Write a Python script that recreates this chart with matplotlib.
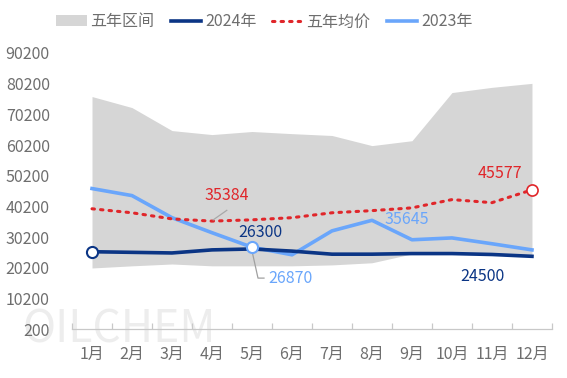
import matplotlib
matplotlib.use("Agg")
import matplotlib.pyplot as plt
import numpy as np

plt.rcParams['font.family'] = ['Noto Sans CJK SC', 'DejaVu Sans']

months = ['1月', '2月', '3月', '4月', '5月', '6月', '7月', '8月', '9月', '10月', '11月', '12月']
band_high = [76000, 72400, 64900, 63600, 64600, 63900, 63300, 60000, 61600, 77300, 79000, 80300]
band_low = [20100, 20800, 21400, 20800, 20800, 20800, 21100, 21800, 24700, 24700, 24400, 24000]
y2024 = [25400, 25200, 25000, 26000, 26300, 25600, 24600, 24600, 24800, 24800, 24500, 23900]
y2023 = [46000, 43700, 36500, 31600, 26870, 24400, 32200, 35645, 29300, 29900, 28000, 26000]
avg5 = [39400, 38100, 36100, 35384, 35800, 36500, 38100, 38800, 39700, 42400, 41400, 45577]
yticks = [200, 10200, 20200, 30200, 40200, 50200, 60200, 70200, 80200, 90200]

c_band = '#d6d6d6'
c_2024 = '#0b3585'
c_avg = '#e0262a'
c_2023 = '#6aa6fb'
c_text = '#6e6e6e'

fig = plt.figure(figsize=(5.67, 3.78), dpi=100)
ax = fig.add_axes([0.127, 0.1296, 0.8465, 0.7302])

fig.text(0.04, 0.128, 'OILCHEM', fontsize=32, color='#ededed', zorder=0,
         fontweight='light', va='center', ha='left')
ax.set_zorder(1)
ax.patch.set_alpha(0)

x = np.arange(len(months))
ax.fill_between(x, band_low, band_high, color=c_band, lw=0, label='五年区间', zorder=1)
ax.plot(x, y2024, color=c_2024, lw=2.6, label='2024年', zorder=3)
ax.plot(x, avg5, color=c_avg, lw=2.2, ls=(0, (0.8, 2.0)), dash_capstyle='round', label='五年均价', zorder=4)
ax.plot(x, y2023, color=c_2023, lw=2.6, label='2023年', zorder=2)

# markers
ax.plot(x[0], y2024[0], 'o', ms=8, mfc='white', mec=c_2024, mew=1.5, zorder=6)
ax.plot(x[4], y2023[4], 'o', ms=8, mfc='white', mec=c_2023, mew=1.5, zorder=6)
ax.plot(x[11], avg5[11], 'o', ms=8, mfc='white', mec=c_avg, mew=1.2, zorder=6)

fs = 11.5
# annotations
ax.plot([x[3] + 0.03, 3.37], [avg5[3] + 400, 38900], color='#a8a8a8', lw=0.9, zorder=5)
ax.text(3.37, 43600, '35384', color=c_avg, fontsize=fs, ha='center', va='center', zorder=7)
ax.text(4.2, 31700, '26300', color=c_2024, fontsize=fs, ha='center', va='center', zorder=7)
ax.plot([x[4], 4.15, 4.3], [y2023[4] - 1200, 16800, 16800], color='#a0a0a0', lw=0.9, zorder=5)
ax.text(4.95, 16800, '26870', color=c_2023, fontsize=fs, ha='center', va='center', zorder=7)
ax.text(7.87, 35800, '35645', color=c_2023, fontsize=fs, ha='center', va='center', zorder=7)
ax.text(9.77, 17300, '24500', color=c_2024, fontsize=fs, ha='center', va='center', zorder=7)
ax.text(10.2, 50800, '45577', color=c_avg, fontsize=fs, ha='center', va='center', zorder=7)

ax.set_xlim(-0.5, 11.5)
ax.set_ylim(200, 90200)
ax.set_yticks(yticks)
ax.set_yticklabels([str(v) for v in yticks])
ax.set_xticks(x)
ax.set_xticklabels(months)
ax.set_xticks(np.arange(-0.5, 12, 1), minor=True)
ax.tick_params(axis='y', length=0, pad=16, labelsize=fs, labelcolor=c_text)
ax.tick_params(axis='x', which='major', length=0, pad=12, labelsize=fs, labelcolor=c_text)
ax.tick_params(axis='x', which='minor', length=4, direction='in', color='#c8c8c8', width=0.9)
for s in ['top', 'right', 'left']:
    ax.spines[s].set_visible(False)
ax.spines['bottom'].set_color('#c8c8c8')
ax.spines['bottom'].set_linewidth(0.9)

handles, labels = ax.get_legend_handles_labels()
leg = fig.legend(handles, labels, loc='center', bbox_to_anchor=(0.466, 0.942), ncol=4,
                 frameon=False, fontsize=fs, handlelength=1.9, handletextpad=0.25,
                 columnspacing=1.0, labelcolor=c_text)

fig.savefig('out.png', dpi=100)
